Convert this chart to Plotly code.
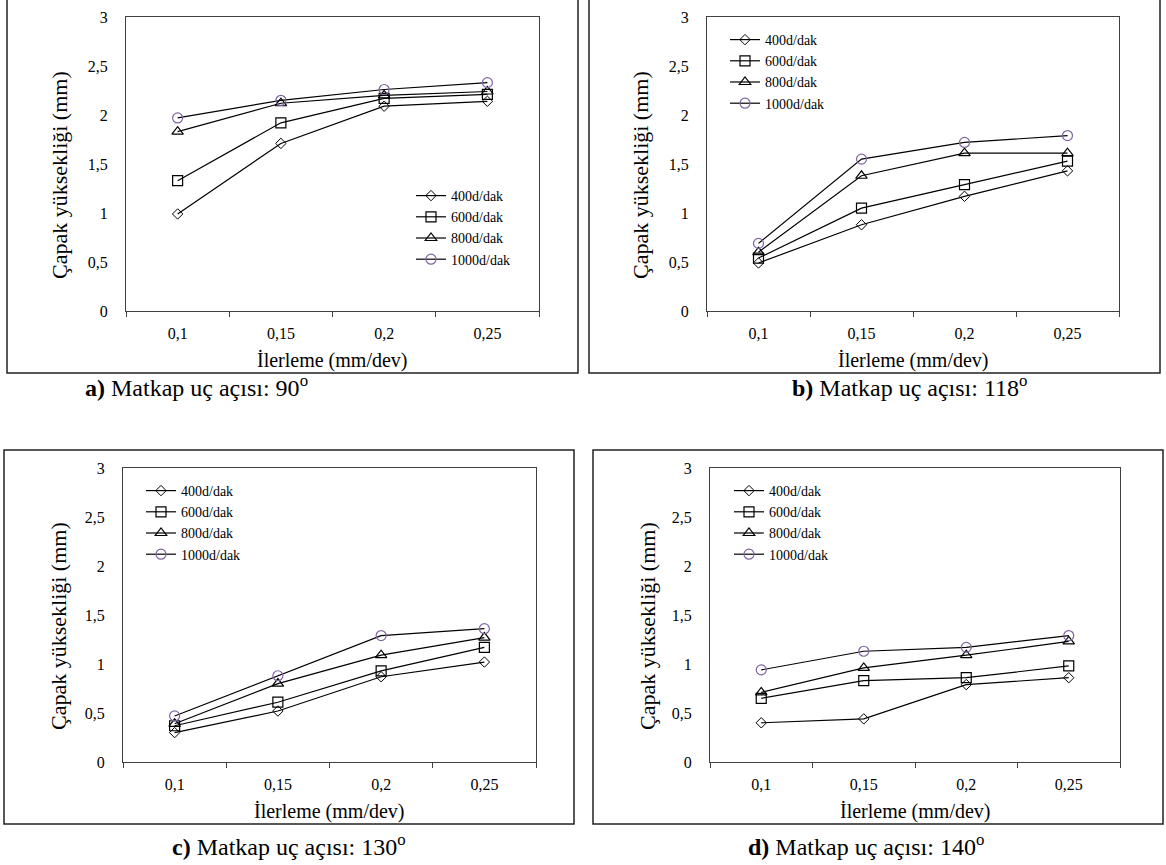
import plotly.graph_objects as go

# ---------------- data ----------------
feed = ["0,1", "0,15", "0,2", "0,25"]
speeds = ["400d/dak", "600d/dak", "800d/dak", "1000d/dak"]

# a) 90 deg
a_400 = [0.99, 1.71, 2.09, 2.14]
a_600 = [1.33, 1.92, 2.17, 2.21]
a_800 = [1.83, 2.12, 2.20, 2.24]
a_1000 = [1.97, 2.15, 2.26, 2.33]
# b) 118 deg
b_400 = [0.49, 0.88, 1.17, 1.43]
b_600 = [0.54, 1.05, 1.29, 1.53]
b_800 = [0.60, 1.38, 1.61, 1.61]
b_1000 = [0.69, 1.55, 1.72, 1.79]
# c) 130 deg
c_400 = [0.30, 0.52, 0.87, 1.02]
c_600 = [0.37, 0.61, 0.93, 1.17]
c_800 = [0.39, 0.80, 1.09, 1.27]
c_1000 = [0.47, 0.88, 1.29, 1.36]
# d) 140 deg
d_400 = [0.40, 0.44, 0.79, 0.86]
d_600 = [0.65, 0.83, 0.86, 0.98]
d_800 = [0.71, 0.96, 1.09, 1.23]
d_1000 = [0.94, 1.13, 1.17, 1.29]

captions = ["<b>a)</b> Matkap uç açısı: 90<sup>o</sup>",
            "<b>b)</b> Matkap uç açısı: 118<sup>o</sup>",
            "<b>c)</b> Matkap uç açısı: 130<sup>o</sup>",
            "<b>d)</b> Matkap uç açısı: 140<sup>o</sup>"]
x_title = "İlerleme (mm/dev)"
y_title = "Çapak yüksekliği (mm)"

panel_values = [[a_400, a_600, a_800, a_1000],
                [b_400, b_600, b_800, b_1000],
                [c_400, c_600, c_800, c_1000],
                [d_400, d_600, d_800, d_1000]]

# ---------------- layout geometry (window pixels) ----------------
W, H = 1166, 865
FONT = "Liberation Serif, Times New Roman, serif"

def fx(x):
    return x / W

def fy(y):
    return 1 - y / H

layout_px = [
    dict(plot=(126, 539, 17, 311), box=(7, 578, -3, 373), cap=(196, 386), yt=(59, 175), legend=(411, 180)),
    dict(plot=(707, 1119, 17, 311), box=(589, 1160, -3, 373), cap=(910, 386), yt=(640, 175), legend=(725, 24)),
    dict(plot=(123, 536, 468, 762), box=(4, 574, 450, 824), cap=(289, 845), yt=(58, 626), legend=(141, 475)),
    dict(plot=(710, 1120, 468, 762), box=(593, 1163, 450, 824), cap=(866, 845), yt=(647, 626), legend=(729, 475)),
]

markers = [
    dict(symbol="diamond-open", size=8, color="black", line=dict(width=1, color="black")),
    dict(symbol="square-open", size=10, color="black", line=dict(width=1.2, color="black")),
    dict(symbol="triangle-up-open", size=10, color="black", line=dict(width=1.2, color="black")),
    dict(symbol="circle-open", size=10, color="#8064A2", line=dict(width=1.2, color="#8064A2")),
]

fig = go.Figure()
annotations = []
shapes = []
lay = dict()

for p, (vals, geo, cap) in enumerate(zip(panel_values, layout_px, captions)):
    suffix = "" if p == 0 else str(p + 1)
    legname = "legend" if p == 0 else "legend" + str(p + 1)
    for s, (name, yv, mk) in enumerate(zip(speeds, vals, markers)):
        fig.add_trace(go.Scatter(
            x=feed, y=yv, name=name, mode="lines+markers",
            line=dict(color="black", width=1.2),
            marker=mk, xaxis="x" + suffix, yaxis="y" + suffix,
            legend=legname, showlegend=True,
        ))
    x0, x1, y0, y1 = geo["plot"]
    lay["xaxis" + suffix] = dict(
        domain=[fx(x0), fx(x1)], anchor="y" + suffix,
        type="category", categoryorder="array", categoryarray=feed,
        range=[-0.5, 3.5], tickson="boundaries", ticks="outside", ticklen=5,
        tickcolor="#404040", showline=True, mirror=True, linecolor="#404040",
        linewidth=1.2, showgrid=False, zeroline=False, automargin=False,
        tickfont=dict(family=FONT, size=16, color="black"), ticklabelstandoff=8,
    )
    lay["yaxis" + suffix] = dict(
        domain=[fy(y1), fy(y0)], anchor="x" + suffix,
        range=[0, 3], tick0=0, dtick=0.5, ticks="",
        showline=True, mirror=True, linecolor="#404040", linewidth=1.2,
        showgrid=False, zeroline=False, automargin=False,
        tickfont=dict(family=FONT, size=16, color="black"), ticklabelstandoff=14,
    )
    lx, ly = geo["legend"]
    lay[legname] = dict(
        x=fx(lx), y=fy(ly), xanchor="left", yanchor="top",
        bgcolor="rgba(0,0,0,0)", font=dict(family=FONT, size=14, color="black"),
        tracegroupgap=0, itemwidth=30,
    )
    bx0, bx1, by0, by1 = geo["box"]
    shapes.append(dict(type="rect", xref="paper", yref="paper",
                       x0=fx(bx0), x1=fx(bx1), y0=fy(by1), y1=fy(by0),
                       line=dict(color="#222", width=1.5)))
    cx, cy = geo["cap"]
    annotations.append(dict(text=cap, x=fx(cx), y=fy(cy), xref="paper", yref="paper",
                            showarrow=False, xanchor="center", yanchor="middle",
                            font=dict(family=FONT, size=24, color="black")))
    annotations.append(dict(text=x_title, x=fx((x0 + x1) / 2), y=fy(y1 + 49),
                            xref="paper", yref="paper", showarrow=False,
                            xanchor="center", yanchor="middle",
                            font=dict(family=FONT, size=20, color="black")))
    tx, ty = geo["yt"]
    annotations.append(dict(text=y_title, x=fx(tx), y=fy(ty), xref="paper", yref="paper",
                            showarrow=False, xanchor="center", yanchor="middle", textangle=-90,
                            font=dict(family=FONT, size=22, color="black")))

fig.update_layout(
    width=W, height=H, margin=dict(l=0, r=0, t=0, b=0, pad=0, autoexpand=False),
    paper_bgcolor="white", plot_bgcolor="white",
    separators=",.",
    font=dict(family=FONT, color="black"),
    shapes=shapes, annotations=annotations,
    **lay,
)

page_fix = ("document.body.style.margin='0';"
            "document.documentElement.style.overflow='hidden';"
            "var d=document.getElementById('{plot_id}');"
            "d.style.position='absolute';d.style.top='0px';d.style.left='0px';")

fig.write_html("out.html", config={"displayModeBar": False}, post_script=page_fix)
